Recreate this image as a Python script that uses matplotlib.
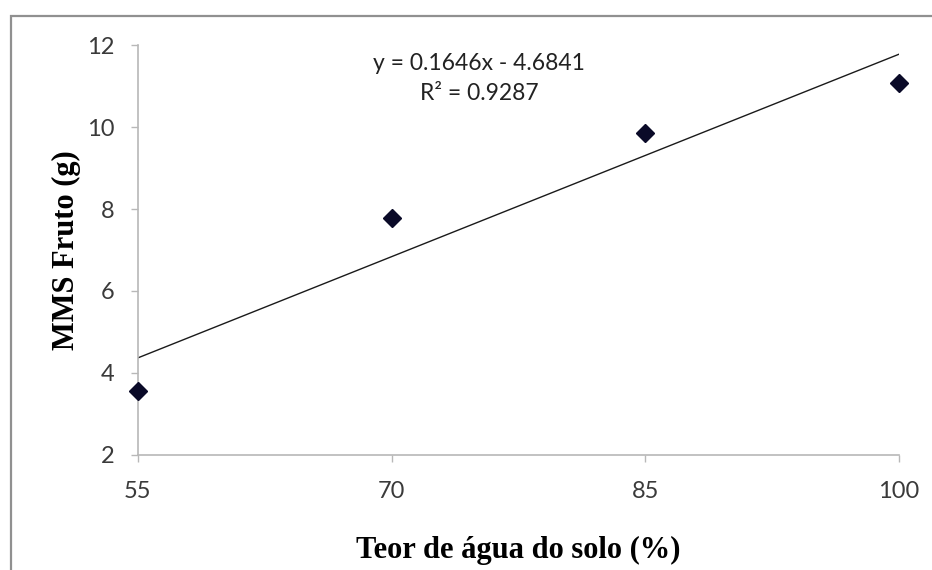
import numpy as np
import matplotlib
matplotlib.use('Agg')
import matplotlib.pyplot as plt
from matplotlib.patches import Rectangle

# soil water content (%) and fruit dry mass (g)
teor_agua = [55, 70, 85, 100]
mms_fruto = [3.56, 7.78, 9.85, 11.08]

# trendline reported on the chart
slope = 0.1646
intercept = -4.6841
r2 = 0.9287

x_ticks = [55, 70, 85, 100]
y_ticks = [2, 4, 6, 8, 10, 12]

fig = plt.figure(figsize=(9.32, 5.70), dpi=100)
ax = fig.add_axes([0.148, 0.2018, 0.8166, 0.7192])

# outer chart border (only left and top edges show in the picture)
fig.patches.append(Rectangle((11 / 932, -0.2), 1.5, 1.2 - 16 / 570,
                             transform=fig.transFigure, fill=False,
                             edgecolor='#909090', linewidth=1.6))

xs = np.array([teor_agua[0], teor_agua[-1]])
ax.plot(xs, slope * xs + intercept, color='#1a1a1a', linewidth=1.0, zorder=2)
ax.plot(teor_agua, mms_fruto, linestyle='none', marker='D', markersize=9.5,
        color='#0a0a28', zorder=3, clip_on=False)

ax.set_xlim(55, 100)
ax.set_ylim(2, 12)
ax.set_xticks(x_ticks)
ax.set_yticks(y_ticks)

for side in ['top', 'right']:
    ax.spines[side].set_visible(False)
for side in ['left', 'bottom']:
    ax.spines[side].set_color('#b8b8b8')
    ax.spines[side].set_linewidth(1.2)

ax.tick_params(axis='both', direction='out', length=5, width=1,
               color='#b8b8b8', labelcolor='#3a3a3a', labelsize=17)
ax.tick_params(axis='x', pad=14)
ax.tick_params(axis='y', pad=12)
for lbl in ax.get_xticklabels() + ax.get_yticklabels():
    lbl.set_family('Lato')

ax.set_xlabel('Teor de água do solo (%)', fontfamily='Liberation Serif',
              fontweight='bold', fontsize=22, labelpad=24)
ax.set_ylabel('MMS Fruto (g)', fontfamily='Liberation Serif',
              fontweight='bold', fontsize=22, labelpad=4)

ax.text(0.448, 0.955, f'y = {slope}x - {abs(intercept)}', transform=ax.transAxes,
        ha='center', va='center', fontsize=16.5, family='Lato', color='#222222')
ax.text(0.448, 0.882, f'R² = {r2}', transform=ax.transAxes,
        ha='center', va='center', fontsize=16.5, family='Lato', color='#222222')

fig.savefig('out.png', dpi=100)
